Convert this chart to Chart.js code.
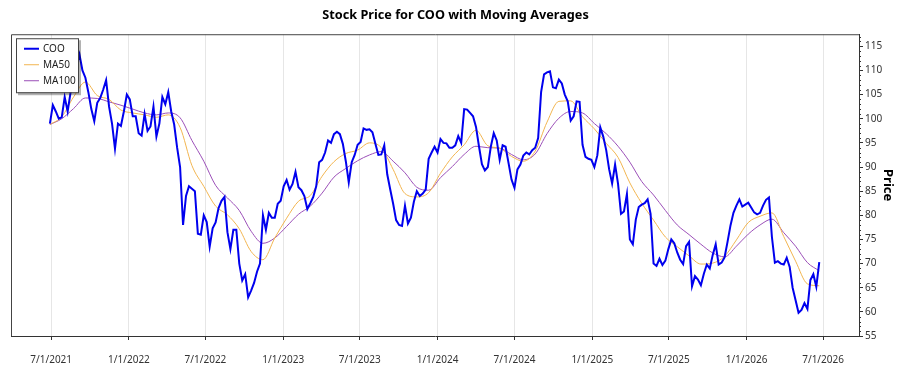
<!DOCTYPE html>
<html>
<head>
<meta charset="utf-8">
<title>Stock Price for COO with Moving Averages</title>
<script src="https://cdn.jsdelivr.net/npm/chart.js@4.4.1/dist/chart.umd.min.js"></script>
<style>
  body { margin: 0; background: #fff; }
  #wrap { width: 900px; height: 375px; }
</style>
</head>
<body>
<div id="wrap"><canvas id="chart" width="900" height="375"></canvas></div>
<script>
const ticker = 'COO';

// weekly closes, first one on 2021-06-28
const priceStart = '2021-06-28';
const priceStepDays = 7;
const prices = [
  99, 102.8, 101.5, 100, 100.3, 104.5, 101.5, 105.5, 108.5, 111,
  113.3, 110, 108.5, 105.5, 102, 99.5, 103.3, 104.3, 106, 108,
  102.5, 99, 93.8, 99, 98.5, 101.5, 105, 104, 100.5, 100.5,
  97, 96.5, 101, 97.5, 98.4, 102.5, 96.3, 99, 104.5, 103,
  105.5, 101.5, 98.8, 94, 90, 78, 84, 86, 85.5, 85,
  76.2, 76, 80, 78.6, 73.5, 77.3, 78.5, 81.5, 83, 83.8,
  76.5, 73, 77, 77, 70, 66.5, 67.8, 63, 64.4, 66,
  68.3, 70, 80, 77, 80.5, 79.5, 79.5, 82.4, 83, 86,
  87.3, 85.3, 86.5, 89, 85.8, 85.2, 84, 81.3, 82.5, 83.8,
  86, 91, 91.5, 93, 95.5, 95, 96.8, 97.3, 96.8, 94.8,
  91.2, 86.8, 91, 92.5, 94.6, 95.2, 98, 97.7, 97.8, 97.2,
  94.8, 92.5, 92.6, 94.5, 88.5, 85.4, 82.4, 79, 78, 77.8,
  82, 78.3, 79.5, 82.8, 85, 84, 84.5, 85.3, 91.7, 93,
  94.2, 93, 95.8, 95, 94.9, 94, 94, 94.5, 96.4, 95,
  102, 101.9, 101.2, 100.5, 98.3, 94.3, 90.6, 89.3, 90, 94.2,
  97, 95.5, 91.5, 94.5, 94.2, 90.8, 87.4, 85.7, 89.5, 90.5,
  92.4, 93, 92.6, 93.5, 94, 96, 105.5, 109.2, 109.6, 109.8,
  106.5, 106.3, 108.1, 107.3, 105, 103.6, 99.6, 100.5, 103.6, 103.5,
  94.6, 92.1, 91.7, 91.5, 90, 92.4, 98.2, 96.3, 93.5, 89.5,
  86.6, 90.5, 86.5, 80.3, 80.8, 84.4, 75, 74, 79.1, 81.7,
  82.2, 82.5, 83.3, 80.3, 70, 69.5, 71, 69.7, 70.6, 73,
  75, 74.2, 72.3, 70.8, 69.9, 73.6, 74.5, 65.3, 67.4, 66.7,
  65.5, 67.9, 69.8, 69, 71.8, 74, 69.8, 70.2, 71.3, 74.5,
  77.9, 80.5, 82, 83.3, 81.8, 82.2, 82.6, 81.6, 80.6, 80.2,
  80.5, 82, 83.2, 83.7, 75.5, 70.2, 70.5, 70, 69.8, 71.2,
  69.3, 65, 62.4, 59.8, 60.4, 61.8, 60.6, 66.6, 67.8, 65.2, 70.3
];

// moving averages read every 4 weeks
const maStart = '2021-06-28';
const maStepDays = 28;
const ma50 = [
  98.8, 100.4, 104.5, 107.6, 104.8, 104, 101.8, 101.2, 100.8, 100.3,
  100.8, 98.2, 90.3, 86, 81.9, 80.1, 77.2, 72.5, 70.8, 75.3,
  79.4, 82.9, 84.1, 88.1, 91.1, 92.8, 93.5, 95, 94, 89.5,
  84.5, 83.8, 84.7, 88.7, 92.1, 94.6, 97.6, 94.4, 93.9, 92.2,
  91.2, 93.3, 99.3, 103.6, 103.7, 100.4, 97.9, 94.9, 92, 86.7,
  82.5, 79, 75.5, 73.5, 71.6, 69.9, 70.1, 71.5, 74.9, 78.5,
  79.8, 80.5, 75.6, 70.5, 65.8, 65.4
];
const ma100 = [
  98.8, 100, 102.1, 104.3, 104.2, 103.5, 102.8, 102, 101.2, 100.8,
  101.2, 100.2, 95.5, 91.2, 86.2, 83.6, 81, 76.7, 74.2, 75.3,
  77.7, 80.2, 81.9, 84.6, 87.9, 89.7, 91.3, 92.5, 93.2, 91.2,
  88.8, 85.8, 85.2, 87.8, 90.1, 92.6, 94.3, 94, 93.9, 92.6,
  91.5, 92.7, 96.9, 100.1, 101.5, 101.2, 99, 96.9, 94.3, 91,
  87, 84.2, 81, 78, 76, 74, 72.2, 71.4, 73.6, 76.1,
  78, 79.2, 76.4, 73.6, 70.2, 68.5
];

const xTickLabels = ['7/1/2021', '1/1/2022', '7/1/2022', '1/1/2023', '7/1/2023', '1/1/2024',
                     '7/1/2024', '1/1/2025', '7/1/2025', '1/1/2026', '7/1/2026'];
const yTicks = [55, 60, 65, 70, 75, 80, 85, 90, 95, 100, 105, 110, 115];

const DAY = 86400000;
function isoDay(s) {
  const [y, m, d] = s.split('-').map(Number);
  return Date.UTC(y, m - 1, d) / DAY;
}
function mdyDay(s) {
  const [m, d, y] = s.split('/').map(Number);
  return Date.UTC(y, m - 1, d) / DAY;
}
function fmtDay(v) {
  const dt = new Date(Math.round(v) * DAY);
  return (dt.getUTCMonth() + 1) + '/' + dt.getUTCDate() + '/' + dt.getUTCFullYear();
}
function series(start, step, vals) {
  const d0 = isoDay(start);
  return vals.map((v, i) => ({ x: d0 + i * step, y: v }));
}

const FONT = '"Segoe UI", "Noto Sans", sans-serif';
const axisColor = '#333';
const day0 = mdyDay(xTickLabels[0]);

const frame = {
  id: 'frame',
  afterDraw(chart) {
    const { ctx, chartArea: a, scales: { y } } = chart;
    ctx.save();
    ctx.strokeStyle = '#444';
    ctx.lineWidth = 1;
    ctx.beginPath();
    ctx.moveTo(a.left + 0.5, a.bottom);
    ctx.lineTo(a.left + 0.5, a.top + 0.5);
    ctx.lineTo(a.right, a.top + 0.5);
    ctx.stroke();
    // minor ticks on the price axis
    ctx.strokeStyle = axisColor;
    ctx.beginPath();
    for (let v = Math.ceil(y.min); v <= y.max; v++) {
      if (v % 5 === 0) continue;
      const py = Math.round(y.getPixelForValue(v)) + 0.5;
      ctx.moveTo(a.right, py);
      ctx.lineTo(a.right + 2, py);
    }
    ctx.stroke();
    ctx.restore();
  }
};

const legendBox = {
  id: 'legendBox',
  afterDraw(chart) {
    const { ctx, chartArea: a } = chart;
    const x = a.left + 5, y = a.top + 4, w = 62, h = 54;
    ctx.save();
    ctx.fillStyle = 'rgba(0,0,0,0.3)';
    ctx.fillRect(x + 2, y + 2, w + 1, h + 1);
    ctx.fillStyle = '#fff';
    ctx.fillRect(x, y, w, h);
    ctx.strokeStyle = '#444';
    ctx.lineWidth = 1;
    ctx.strokeRect(x + 0.5, y + 0.5, w, h);
    ctx.font = '10px ' + FONT;
    ctx.textBaseline = 'middle';
    chart.data.datasets.forEach((ds, i) => {
      const ly = y + 10.5 + i * 16;
      ctx.strokeStyle = ds.borderColor;
      ctx.lineWidth = ds.borderWidth;
      ctx.beginPath();
      ctx.moveTo(x + 8, ly);
      ctx.lineTo(x + 23, ly);
      ctx.stroke();
      ctx.fillStyle = '#222';
      ctx.fillText(ds.label, x + 27, ly);
    });
    ctx.restore();
  }
};

new Chart(document.getElementById('chart'), {
  type: 'line',
  data: {
    datasets: [
      { label: ticker, data: series(priceStart, priceStepDays, prices),
        borderColor: '#0000ee', borderWidth: 2, pointRadius: 0, tension: 0 },
      { label: 'MA50', data: series(maStart, maStepDays, ma50),
        borderColor: '#f2b550', borderWidth: 1, pointRadius: 0, cubicInterpolationMode: 'monotone' },
      { label: 'MA100', data: series(maStart, maStepDays, ma100),
        borderColor: '#9b4fb8', borderWidth: 1, pointRadius: 0, cubicInterpolationMode: 'monotone' }
    ]
  },
  options: {
    responsive: false,
    animation: false,
    devicePixelRatio: 1,
    layout: { padding: { left: 11, right: 0, top: 0, bottom: 0 } },
    plugins: {
      legend: { display: false },
      tooltip: { enabled: false },
      title: {
        display: true,
        text: 'Stock Price for ' + ticker + ' with Moving Averages',
        color: '#000',
        font: { family: FONT, size: 12.7, weight: 'bold' },
        padding: { top: 8, bottom: 11 }
      }
    },
    scales: {
      x: {
        type: 'linear',
        min: day0 - 95,
        max: day0 + 1911,
        afterBuildTicks: s => { s.ticks = xTickLabels.map(l => ({ value: mdyDay(l) })); },
        afterFit: s => { s.height = 39; },
        ticks: { callback: v => fmtDay(v), color: '#333', font: { family: FONT, size: 10 },
                 maxRotation: 0, autoSkip: false, padding: 14 },
        grid: { color: '#e6e6e6', tickColor: axisColor, tickLength: 4 },
        border: { display: true, color: axisColor }
      },
      y: {
        position: 'right',
        min: 55,
        max: 117.5,
        afterBuildTicks: s => { s.ticks = yTicks.map(v => ({ value: v })); },
        afterFit: s => { s.width = 41; },
        ticks: { color: '#333', font: { family: FONT, size: 10 }, padding: 2 },
        grid: { drawOnChartArea: false, tickColor: axisColor, tickLength: 4 },
        border: { display: true, color: axisColor },
        title: { display: true, text: 'Price', color: '#000',
                 font: { family: FONT, size: 13, weight: 'bold' }, padding: { top: 4, bottom: 0 } }
      }
    }
  },
  plugins: [frame, legendBox]
});
</script>
</body>
</html>
